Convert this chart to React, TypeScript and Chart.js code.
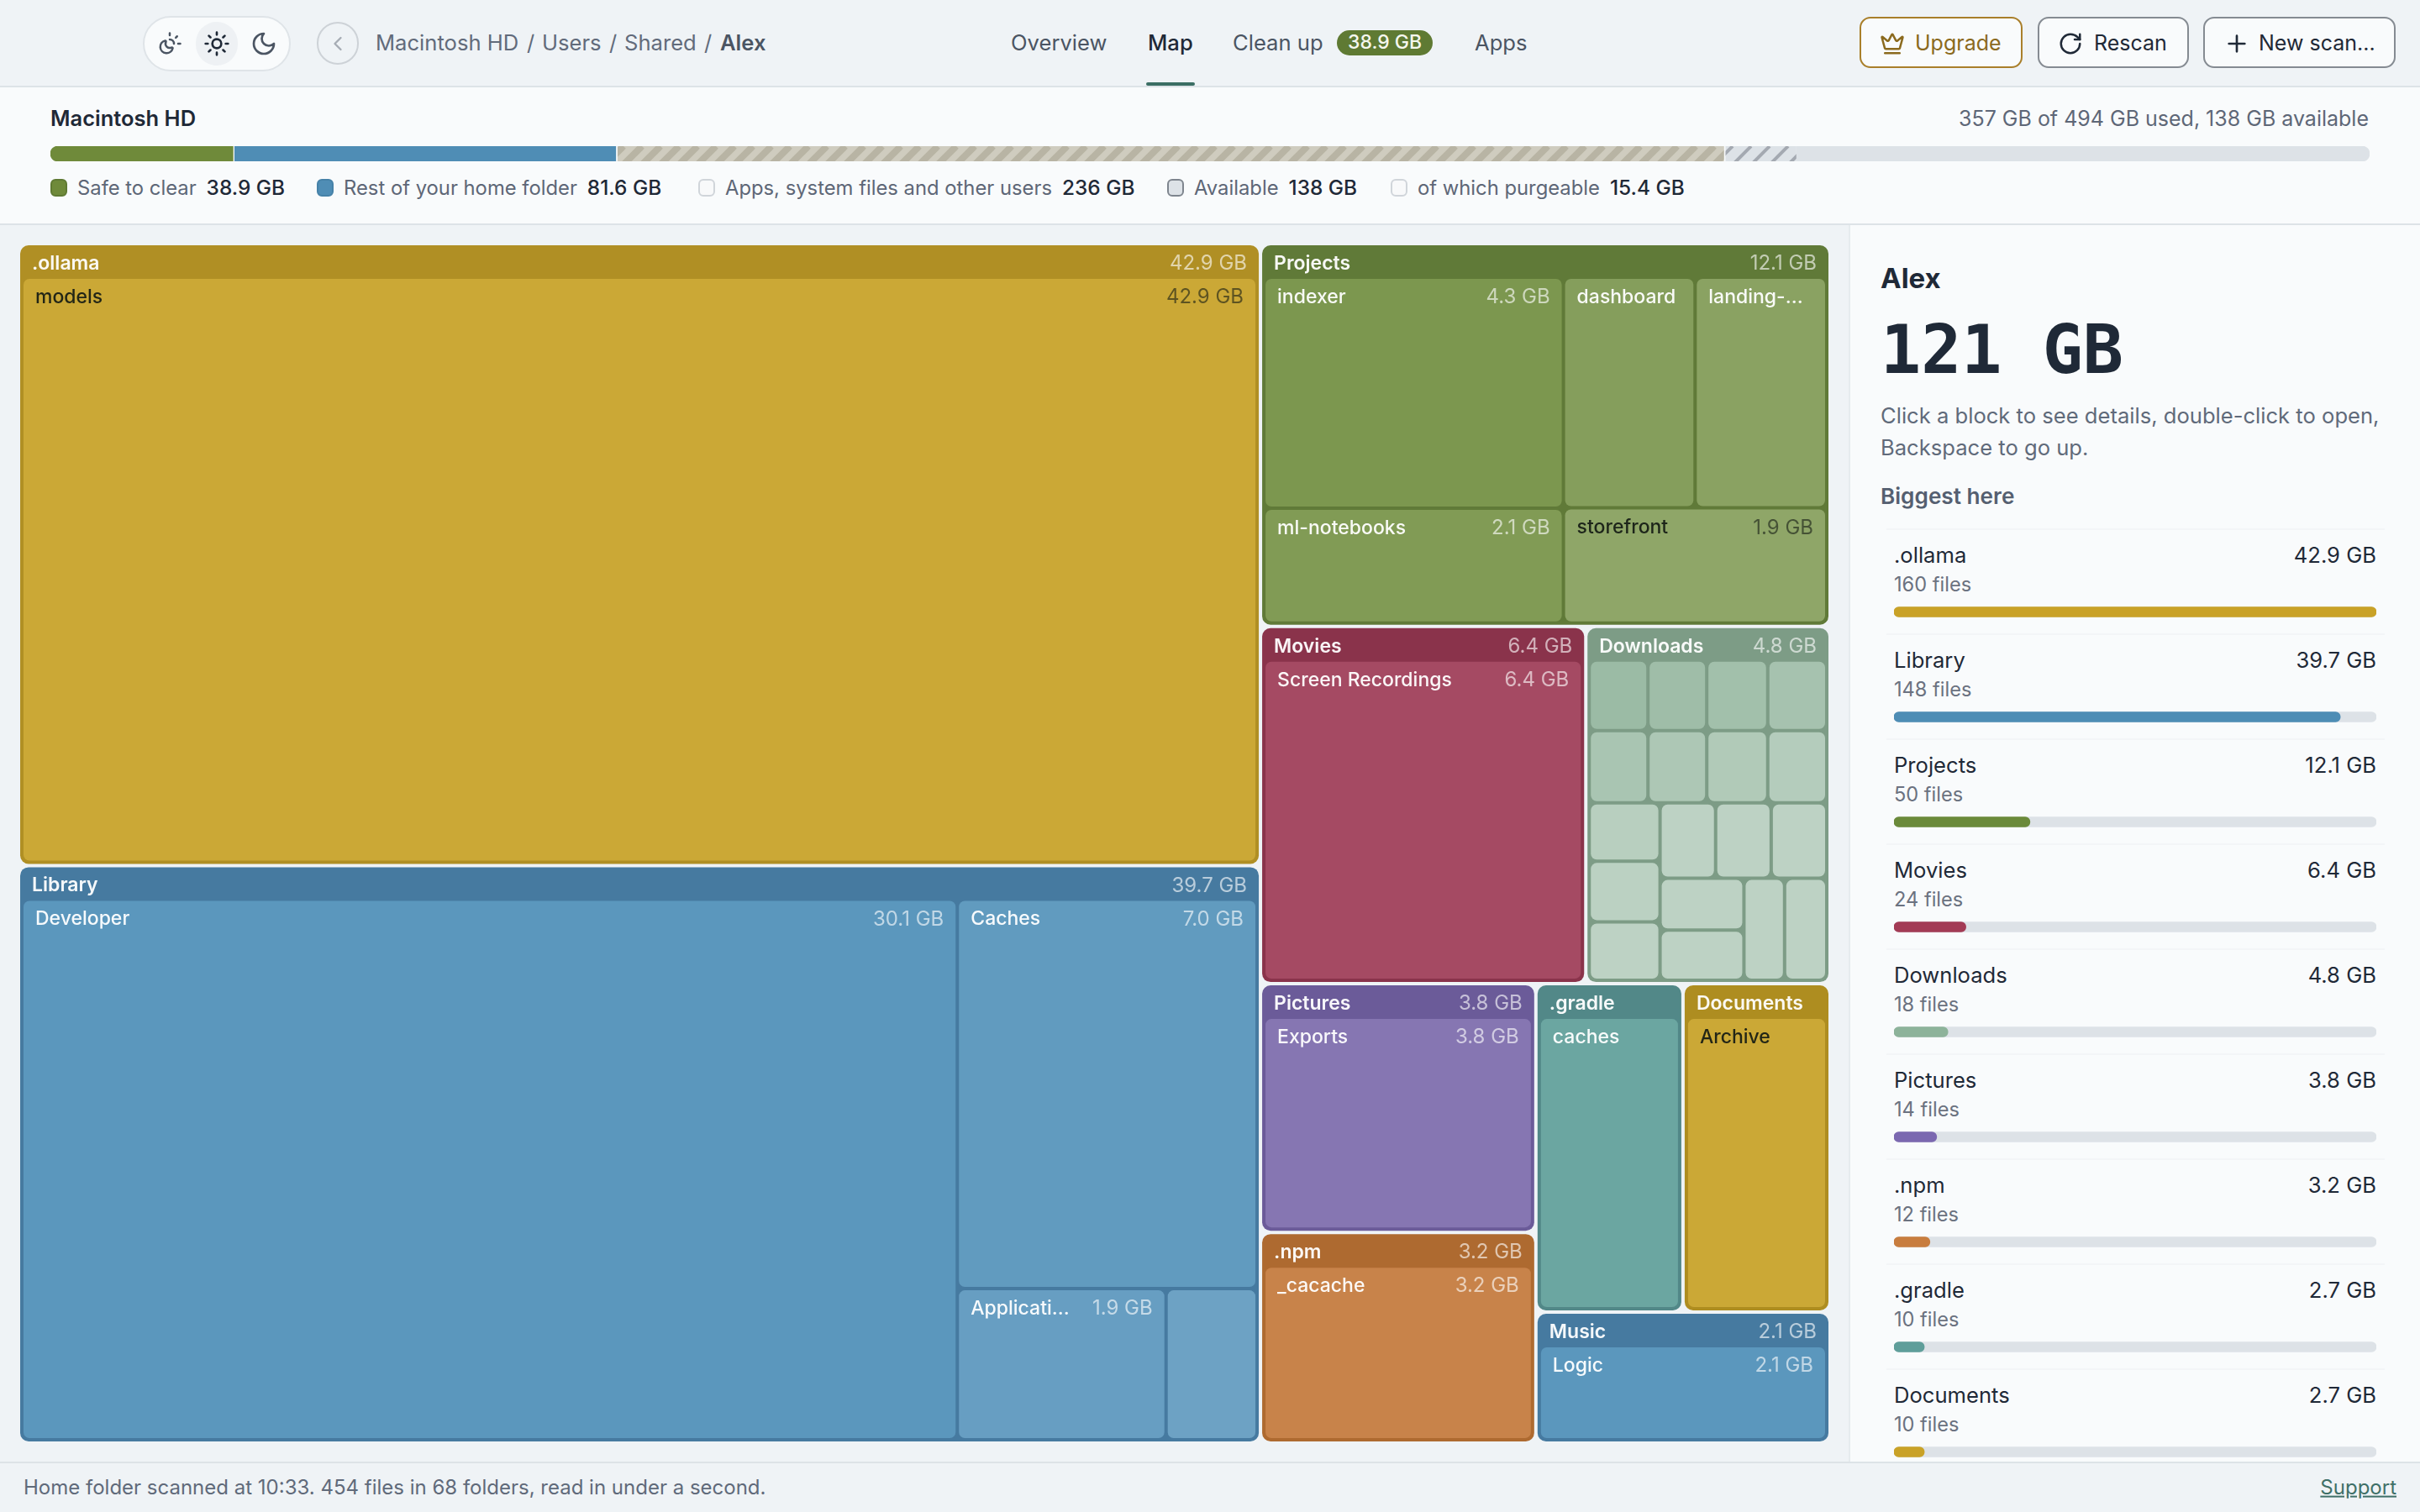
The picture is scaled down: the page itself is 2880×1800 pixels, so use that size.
import { useEffect, useRef } from "react"
import type { CSSProperties, ReactNode } from "react"
import { Chart, registerables } from "chart.js"

Chart.register(...registerables)

// Folder values, biggest first
const folderNames = [".ollama", "Library", "Projects", "Movies", "Downloads", "Pictures", ".npm", ".gradle", "Documents", "Music"]
const folderSizes = [42.9, 39.7, 12.1, 6.4, 4.8, 3.8, 3.2, 2.7, 2.7, 2.1]
const folderFiles = [160, 148, 50, 24, 18, 14, 12, 10, 10]
const childNames = [
  ["models"],
  ["Developer", "Caches", "Applicati...", ""],
  ["indexer", "ml-notebooks", "dashboard", "landing-...", "storefront"],
  ["Screen Recordings"],
  ["", "", "", "", "", "", "", "", "", "", "", "", "", "", "", "", "", ""],
  ["Exports"],
  ["_cacache"],
  ["caches"],
  ["Archive"],
  ["Logic"],
]
// one more digit than the labels show, estimated from the block areas
const childSizes = [
  [42.86],
  [30.14, 6.96, 1.88, 0.82],
  [4.3, 2.14, 1.887, 1.887, 1.887],
  [6.449],
  [0.264, 0.264, 0.274, 0.265, 0.27, 0.27, 0.28, 0.271, 0.264, 0.273, 0.264, 0.267, 0.267, 0.267, 0.277, 0.268, 0.264, 0.274],
  [3.8],
  [3.22],
  [2.68],
  [2.68],
  [2.14],
]
const headerColors = ["#B08F24", "#467AA0", "#607A38", "#8A334B", "#7D9C86", "#6B5B99", "#AE6A30", "#528888", "#AE8D20", "#467AA0"]
const leafColors = ["#CBA836", "#5B97BD", "#7C974F", "#A54A63", "#9BBBA5", "#8676B2", "#C8834A", "#6BA6A1", "#CBA836", "#5B97BD"]
const listColors = ["#C9A227", "#4E8DB5", "#6B8A3A", "#A33B55", "#8DB39A", "#7B68B0", "#C87D3E", "#5F9E9A", "#C9A227"]

// Disk usage strip
const diskSegments = ["Safe to clear", "Rest of your home folder", "Apps, system files and other users", "of which purgeable", "Available"]
const diskValues = [38.9, 81.6, 236, 15.4, 122.1]
const diskTotal = 494

const MAP_W = 2152
const MAP_H = 1424
const TILE_RATIO = 1.3
const GAP = 4
const HEADER = 40

type Rect = { x0: number; y0: number; x1: number; y1: number }
type Cell = Rect & { x: number; y: number; name: string; size: number; fill: string; isHeader: boolean }

// squarified layout, same row rule as d3 but with a flatter target ratio
function squarify(values: number[], box: Rect): Rect[] {
  let { x0, y0, x1, y1 } = box
  const rects: Rect[] = []
  let remaining = values.reduce((a, b) => a + b, 0)
  let i0 = 0
  let i1 = 0
  while (i0 < values.length) {
    const dx = x1 - x0
    const dy = y1 - y0
    let total = values[i1++]
    let min = total
    let max = total
    const alpha = Math.max(dy / dx, dx / dy) / (remaining * TILE_RATIO)
    let beta = total * total * alpha
    let best = Math.max(max / beta, beta / min)
    for (; i1 < values.length; i1++) {
      const v = values[i1]
      const nextTotal = total + v
      const nextMin = Math.min(min, v)
      const nextMax = Math.max(max, v)
      beta = nextTotal * nextTotal * alpha
      const ratio = Math.max(nextMax / beta, beta / nextMin)
      if (ratio > best) break
      total = nextTotal
      min = nextMin
      max = nextMax
      best = ratio
    }
    const row = values.slice(i0, i1)
    if (dx < dy) {
      const h = (dy * total) / remaining
      let x = x0
      row.forEach((v) => {
        const w = (dx * v) / total
        rects.push({ x0: x, y0, x1: x + w, y1: y0 + h })
        x += w
      })
      y0 += h
    } else {
      const w = (dx * total) / remaining
      let y = y0
      row.forEach((v) => {
        const h = (dy * v) / total
        rects.push({ x0, y0: y, x1: x0 + w, y1: y + h })
        y += h
      })
      x0 += w
    }
    remaining -= total
    i0 = i1
  }
  return rects
}

function lighten(hex: string, t: number) {
  const n = parseInt(hex.slice(1), 16)
  const mix = (c: number) => Math.round(c + (255 - c) * t)
  return `rgb(${mix(n >> 16)},${mix((n >> 8) & 255)},${mix(n & 255)})`
}

function inset(r: Rect): Rect {
  return { x0: r.x0 + GAP / 2, y0: r.y0 + GAP / 2, x1: r.x1 - GAP / 2, y1: r.y1 - GAP / 2 }
}

function buildCells() {
  const cells: Cell[] = []
  const sums = childSizes.map((sizes) => sizes.reduce((a, b) => a + b, 0))
  const tiles = squarify(sums, { x0: -GAP / 2, y0: -GAP / 2, x1: MAP_W + GAP / 2, y1: MAP_H + GAP / 2 })
  tiles.forEach((tile, f) => {
    const box = inset(tile)
    cells.push({
      ...box,
      x: (box.x0 + box.x1) / 2,
      y: (box.y0 + box.y1) / 2,
      name: folderNames[f],
      size: folderSizes[f],
      fill: headerColors[f],
      isHeader: true,
    })
    const inner = {
      x0: box.x0 + GAP - GAP / 2,
      y0: box.y0 + HEADER - GAP / 2,
      x1: box.x1 - GAP + GAP / 2,
      y1: box.y1 - GAP + GAP / 2,
    }
    squarify(childSizes[f], inner).forEach((childTile, c) => {
      const child = inset(childTile)
      cells.push({
        ...child,
        x: (child.x0 + child.x1) / 2,
        y: (child.y0 + child.y1) / 2,
        name: childNames[f][c],
        size: childSizes[f][c],
        fill: lighten(leafColors[f], Math.min(c * 0.036, 0.34)),
        isHeader: false,
      })
    })
  })
  return cells
}

function needsDarkInk(fill: string) {
  const [r, g, b] = (fill.match(/\d+/g) || []).map(Number)
  return 0.2126 * r + 0.7152 * g + 0.0722 * b > 155
}

const treemapPlugin = {
  id: "treemapCells",
  afterDatasetsDraw(chart: any) {
    const { ctx, scales } = chart
    const cells: Cell[] = chart.data.datasets[0].data
    ctx.save()
    cells.forEach((cell) => {
      const left = scales.x.getPixelForValue(cell.x0)
      const right = scales.x.getPixelForValue(cell.x1)
      const top = scales.y.getPixelForValue(cell.y0)
      const bottom = scales.y.getPixelForValue(cell.y1)
      const w = right - left

      ctx.fillStyle = cell.fill
      ctx.beginPath()
      ctx.roundRect(left, top, w, bottom - top, cell.isHeader ? 10 : 7)
      ctx.fill()

      if (!cell.name) return
      const dark = !cell.isHeader && needsDarkInk(cell.fill)
      const pad = 14
      const midY = top + 22
      const sizeText = `${cell.size.toFixed(1)} GB`
      ctx.textBaseline = "middle"
      ctx.font = `${cell.isHeader ? 600 : 500} 23px Inter`
      ctx.textAlign = "left"
      ctx.fillStyle = dark ? "rgba(20,26,20,0.92)" : "rgba(255,255,255,0.95)"
      const nameW = ctx.measureText(cell.name).width
      ctx.fillText(cell.name, left + pad, midY)
      ctx.font = "400 24px Inter"
      const sizeW = ctx.measureText(sizeText).width
      if (nameW + sizeW + pad * 2 + 8 <= w) {
        ctx.textAlign = "right"
        ctx.fillStyle = dark ? "rgba(20,26,20,0.6)" : "rgba(255,255,255,0.62)"
        ctx.fillText(sizeText, right - pad, midY)
      }
    })
    ctx.restore()
  },
}

function TreemapChart() {
  const chartRef = useRef<HTMLCanvasElement>(null)

  useEffect(() => {
    if (!chartRef.current) return
    const chart = new Chart(chartRef.current, {
      type: "scatter",
      data: { datasets: [{ data: buildCells() as any, pointRadius: 0 }] },
      options: {
        animation: false,
        responsive: true,
        maintainAspectRatio: false,
        events: [],
        layout: { padding: 0 },
        plugins: { legend: { display: false }, tooltip: { enabled: false } },
        scales: {
          x: { type: "linear", min: 0, max: MAP_W, display: false },
          y: { type: "linear", min: 0, max: MAP_H, reverse: true, display: false },
        },
      },
      plugins: [treemapPlugin],
    })
    return () => chart.destroy()
  }, [])

  return (
    <div style={{ position: "absolute", left: 24, top: 292, width: MAP_W, height: MAP_H }}>
      <canvas ref={chartRef} />
    </div>
  )
}

function stripes(back: string, line: string, lineWidth: number) {
  const period = 22
  const tile = document.createElement("canvas")
  tile.width = period
  tile.height = period
  const t = tile.getContext("2d")!
  t.fillStyle = back
  t.fillRect(0, 0, period, period)
  t.strokeStyle = line
  t.lineWidth = lineWidth
  for (let k = -1; k <= 1; k++) {
    t.beginPath()
    t.moveTo(k * period, period)
    t.lineTo(k * period + period, 0)
    t.stroke()
  }
  return t.createPattern(tile, "repeat")!
}

function DiskBar() {
  const chartRef = useRef<HTMLCanvasElement>(null)

  useEffect(() => {
    if (!chartRef.current) return
    const fills = [
      "#6F8A3A",
      "#4F8DB5",
      stripes("#CFCCBF", "#B8B4A4", 8),
      stripes("#DDE2E7", "#A4A9B1", 4),
      "#DDE2E7",
    ]
    const chart = new Chart(chartRef.current, {
      type: "bar",
      data: {
        labels: ["Macintosh HD"],
        datasets: diskSegments.map((label, i) => ({
          label,
          data: [diskValues[i]],
          backgroundColor: fills[i] as any,
          borderColor: "#F9FBFC",
          borderWidth: i > 0 && i < 4 ? { left: 2 } : 0,
          borderSkipped: false,
          borderRadius: i === 0 ? { topLeft: 9, bottomLeft: 9 } : i === 4 ? { topRight: 9, bottomRight: 9 } : 0,
          categoryPercentage: 1,
          barPercentage: 1,
        })),
      },
      options: {
        indexAxis: "y",
        animation: false,
        responsive: true,
        maintainAspectRatio: false,
        events: [],
        plugins: { legend: { display: false }, tooltip: { enabled: false } },
        scales: {
          x: { stacked: true, min: 0, max: diskTotal, display: false },
          y: { stacked: true, display: false },
        },
      },
    })
    return () => chart.destroy()
  }, [])

  return (
    <div style={{ position: "absolute", left: 60, top: 174, width: 2760, height: 18 }}>
      <canvas ref={chartRef} />
    </div>
  )
}

function BiggestBars() {
  const chartRef = useRef<HTMLCanvasElement>(null)

  useEffect(() => {
    if (!chartRef.current) return
    const labels = folderNames.filter((n) => n !== "Music")
    const sizes = folderSizes.slice(0, labels.length)
    const chart = new Chart(chartRef.current, {
      type: "bar",
      data: {
        labels,
        datasets: [
          { data: sizes, backgroundColor: listColors, barThickness: 12, borderRadius: 6, borderSkipped: false, grouped: false },
          { data: sizes.map(() => folderSizes[0]), backgroundColor: "#DDE2E7", barThickness: 12, borderRadius: 6, borderSkipped: false, grouped: false },
        ],
      },
      options: {
        indexAxis: "y",
        animation: false,
        responsive: true,
        maintainAspectRatio: false,
        events: [],
        plugins: { legend: { display: false }, tooltip: { enabled: false } },
        scales: {
          x: { min: 0, max: folderSizes[0], display: false },
          y: { display: false },
        },
      },
    })
    return () => chart.destroy()
  }, [])

  return (
    <div style={{ position: "absolute", left: 2254, top: 665.5, width: 574, height: 1125 }}>
      <canvas ref={chartRef} />
    </div>
  )
}

function Label(props: { x?: number; right?: number; y: number; size?: number; weight?: number; color?: string; style?: CSSProperties; children: ReactNode }) {
  const { x, right, y, size = 25.6, weight = 400, color = "#1F2937", style, children } = props
  return (
    <div
      style={{
        position: "absolute",
        left: x,
        right: right !== undefined ? 2880 - right : undefined,
        top: y,
        transform: "translateY(-50%)",
        fontSize: size,
        fontWeight: weight,
        color,
        lineHeight: 1.2,
        whiteSpace: "nowrap",
        ...style,
      }}
    >
      {children}
    </div>
  )
}

function Icon({ x, y, size = 28, color, width = 2, paths }: { x: number; y: number; size?: number; color: string; width?: number; paths: string[] }) {
  return (
    <svg
      viewBox="0 0 24 24"
      width={size}
      height={size}
      fill="none"
      stroke={color}
      strokeWidth={width}
      strokeLinecap="round"
      strokeLinejoin="round"
      style={{ position: "absolute", left: x - size / 2, top: y - size / 2 }}
    >
      {paths.map((d) => (
        <path key={d} d={d} />
      ))}
    </svg>
  )
}

function Box({ x, y, w, h, radius, back, border, children }: { x: number; y: number; w: number; h: number; radius?: number; back?: string; border?: string; children?: ReactNode }) {
  return (
    <div
      style={{
        position: "absolute",
        left: x,
        top: y,
        width: w,
        height: h,
        boxSizing: "border-box",
        borderRadius: radius,
        background: back,
        border: border ? `2px solid ${border}` : undefined,
      }}
    >
      {children}
    </div>
  )
}

function LegendItem({ x, fill, edge, name, value }: { x: number; fill: string; edge: string; name: string; value: string }) {
  return (
    <div style={{ position: "absolute", left: x, top: 223, transform: "translateY(-50%)", display: "flex", alignItems: "center", whiteSpace: "nowrap" }}>
      <span style={{ width: 20, height: 21, boxSizing: "border-box", borderRadius: 6, background: fill, border: `2px solid ${edge}`, marginRight: 12 }} />
      <span style={{ color: "#5E6777", marginRight: 12, fontSize: 23.8 }}>{name}</span>
      <span style={{ color: "#1F2937", fontWeight: 500, fontSize: 24.4 }}>{value}</span>
    </div>
  )
}

const SUN_MOON = [
  "M12 2v2",
  "M14.837 16.385a6 6 0 1 1-7.223-7.222c.624-.147.97.66.715 1.248a4 4 0 0 0 5.26 5.259c.589-.255 1.396.09 1.248.715",
  "M16 12a4 4 0 0 0-4-4",
  "m19 5-1.256 1.256",
  "M20 12h2",
]
const SUN = ["M12 8a4 4 0 1 0 0 8 4 4 0 0 0 0-8z", "M12 2v2M12 20v2M4.93 4.93l1.41 1.41M17.66 17.66l1.41 1.41M2 12h2M20 12h2M6.34 17.66l-1.41 1.41M19.07 4.93l-1.41 1.41"]
const MOON = ["M12 3a6 6 0 0 0 9 9 9 9 0 1 1-9-9Z"]
const CROWN = ["M11.562 3.266a.5.5 0 0 1 .876 0L15.39 8.87a1 1 0 0 0 1.516.294L21.183 5.5a.5.5 0 0 1 .798.519l-2.834 10.246a1 1 0 0 1-.956.734H5.81a1 1 0 0 1-.957-.734L2.02 6.02a.5.5 0 0 1 .798-.519l4.276 3.664a1 1 0 0 0 1.516-.294z", "M5 21h14"]
const ROTATE = ["M21 12a9 9 0 1 1-9-9c2.52 0 4.93 1 6.74 2.74L21 8", "M21 3v5h-5"]

export default function App() {
  const listNames = folderNames.filter((n) => n !== "Music")

  return (
    <div style={{ position: "fixed", left: 0, top: 0, width: 2880, height: 1800, overflow: "hidden", background: "#EFF3F6", fontFamily: "Inter, sans-serif" }}>
      {/* top bar */}
      <Box x={0} y={102} w={2880} h={2} back="#DDE3E7" />
      <Box x={170} y={19} w={176} h={66} radius={33} back="#F9FBFC" border="#DFE4E8" />
      <Box x={233} y={26} w={50} h={52} radius={26} back="#EEF1F4" />
      <Icon x={202} y={52} size={30} color="#4B5563" paths={SUN_MOON} />
      <Icon x={258} y={52} size={32} color="#1F2937" paths={SUN} />
      <Icon x={314} y={52} size={32} color="#4B5563" paths={MOON} />
      <Box x={377} y={26} w={50} h={51} radius={25} border="#CDD2D7" />
      <Icon x={402} y={52} size={28} color="#A6ACB4" paths={["m15 18-6-6 6-6"]} />
      <Label x={447} y={51} color="#626B7B">Macintosh HD</Label>
      <Label x={627} y={51} color="#626B7B">/</Label>
      <Label x={645} y={51} color="#626B7B">Users</Label>
      <Label x={725} y={51} color="#626B7B">/</Label>
      <Label x={743} y={51} color="#626B7B">Shared</Label>
      <Label x={838} y={51} color="#626B7B">/</Label>
      <Label x={857} y={51} weight={600} color="#4B5563">Alex</Label>

      <Label x={1203} y={51} color="#4B5563">Overview</Label>
      <Label x={1366} y={51} weight={500}>Map</Label>
      <Box x={1364} y={98} w={58} h={4} radius={2} back="#3B6E64" />
      <Label x={1467} y={51} color="#4B5563">Clean up</Label>
      <Box x={1591} y={36} w={114} h={30} radius={15} back="#5F7A33" />
      <Label x={1604} y={51} size={23} weight={500} color="#F5F7EE">38.9 GB</Label>
      <Label x={1755} y={51} color="#4B5563">Apps</Label>

      <Box x={2213} y={20} w={194} h={61} radius={13} back="#F9FBFC" border="#A97F2A" />
      <Icon x={2252} y={52} size={30} color="#8B6A1E" paths={CROWN} />
      <Label x={2279} y={51} size={25} color="#8B6A1E">Upgrade</Label>
      <Box x={2425} y={20} w={180} h={61} radius={13} back="#F9FBFC" border="#858B92" />
      <Icon x={2464} y={52} size={30} paths={ROTATE} color="#1F2937" />
      <Label x={2492} y={51} size={25}>Rescan</Label>
      <Box x={2622} y={20} w={229} h={61} radius={13} back="#F9FBFC" border="#858B92" />
      <Icon x={2662} y={52} size={32} paths={["M5 12h14M12 5v14"]} color="#1F2937" />
      <Label x={2688} y={51} size={25}>New scan...</Label>

      {/* disk summary */}
      <Box x={0} y={104} w={2880} h={162} back="#F9FBFC" />
      <Box x={0} y={266} w={2880} h={2} back="#DDE3E7" />
      <Label x={60} y={141} size={25.5} weight={600}>Macintosh HD</Label>
      <Label right={2819} y={141} size={25} color="#5E6777">357 GB of 494 GB used, 138 GB available</Label>
      <DiskBar />
      <LegendItem x={60} fill="#6F8A3A" edge="#5F7A33" name="Safe to clear" value="38.9 GB" />
      <LegendItem x={377} fill="#4F8DB5" edge="#4682A8" name="Rest of your home folder" value="81.6 GB" />
      <LegendItem x={831} fill="#F8F9FA" edge="#D0D5DA" name="Apps, system files and other users" value="236 GB" />
      <LegendItem x={1389} fill="#DDE2E7" edge="#7E858E" name="Available" value="138 GB" />
      <LegendItem x={1655} fill="#F8F9FA" edge="#D0D5DA" name="of which purgeable" value="15.4 GB" />

      <TreemapChart />

      {/* side panel */}
      <Box x={2200} y={268} w={2} h={1472} back="#E6EBEE" />
      <Box x={2202} y={268} w={678} h={1472} back="#F9FBFC" />
      <Label x={2238} y={332} size={33} weight={700}>Alex</Label>
      <Label x={2238} y={417} size={80} weight={700} style={{ fontFamily: "'DejaVu Sans Mono', monospace" }}>121 GB</Label>
      <Label x={2238} y={495} color="#606A7A">Click a block to see details, double-click to open,</Label>
      <Label x={2238} y={533} color="#606A7A">Backspace to go up.</Label>
      <Label x={2238} y={591} size={26.2} weight={600} color="#555F70">Biggest here</Label>
      {listNames.map((name, i) => (
        <div key={name}>
          <Box x={2245} y={629 + i * 125} w={593} h={2} back="#F3F5F7" />
          <Label x={2254} y={661 + i * 125}>{name}</Label>
          <Label right={2828} y={661 + i * 125}>{folderSizes[i].toFixed(1)} GB</Label>
          <Label x={2254} y={696 + i * 125} size={23.6} color="#6B7280">{folderFiles[i]} files</Label>
        </div>
      ))}
      <BiggestBars />

      {/* footer */}
      <Box x={0} y={1740} w={2880} h={60} back="#EFF3F6" />
      <Box x={0} y={1740} w={2880} h={2} back="#DDE3E7" />
      <Label x={28} y={1771} size={24} color="#606A7A">Home folder scanned at 10:33. 454 files in 68 folders, read in under a second.</Label>
      <Label right={2852} y={1771} size={24} color="#3F7068" style={{ textDecoration: "underline" }}>Support</Label>
    </div>
  )
}
